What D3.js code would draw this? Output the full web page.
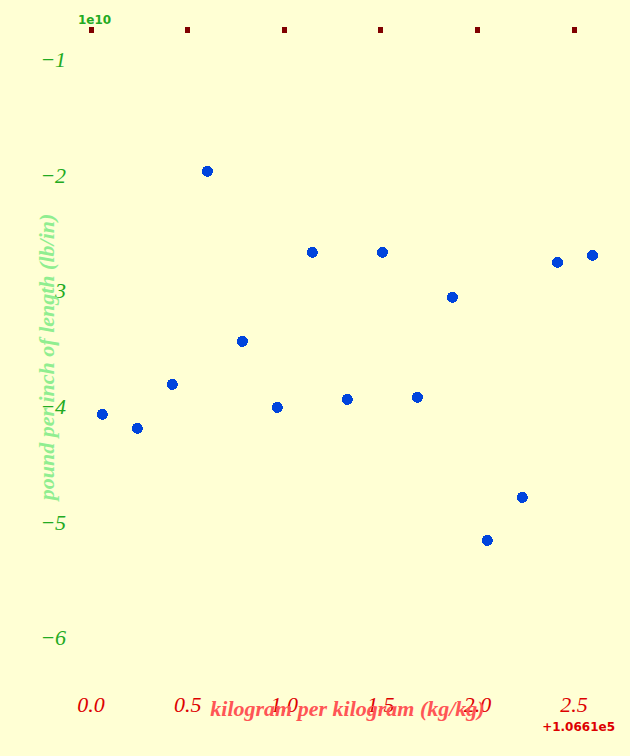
<!DOCTYPE html>
<html><head><meta charset="utf-8">
<script src="https://cdn.jsdelivr.net/npm/d3@7"></script>
<style>html,body{margin:0;padding:0;background:#ffffd4;} svg{display:block}</style>
</head><body><svg id="chart" width="630" height="756"></svg>
<script>
const xValues = [106610.061, 106610.242, 106610.423, 106610.605, 106610.786, 106610.967, 106611.148, 106611.329, 106611.511, 106611.692, 106611.873, 106612.054, 106612.235, 106612.417, 106612.598];
const yValues = [-4.068e10, -4.189e10, -3.809e10, -1.966e10, -3.437e10, -4.008e10, -2.667e10, -3.939e10, -2.667e10, -3.921e10, -3.056e10, -5.158e10, -4.786e10, -2.753e10, -2.693e10];
const xTickValues = [106610, 106610.5, 106611, 106611.5, 106612, 106612.5];
const xTickLabels = ["0.0", "0.5", "1.0", "1.5", "2.0", "2.5"];
const yTickValues = [-1e10, -2e10, -3e10, -4e10, -5e10, -6e10];
const yTickLabels = ["\u22121", "\u22122", "\u22123", "\u22124", "\u22125", "\u22126"];
const xOffsetText = "+1.0661e5";
const yOffsetText = "1e10";
const xLabel = "kilogram per kilogram (kg/kg)";
const yLabel = "pound per inch of length (lb/in)";

const W = 630, H = 756;
const plot = {left: 78, right: 617, top: 30, bottom: 684};
const svg = d3.select("#chart");
svg.append("rect").attr("width", W).attr("height", H).attr("fill", "#ffffd4");

const x = d3.scaleLinear().domain([106609.935, 106612.725]).range([plot.left, plot.right]);
const y = d3.scaleLinear().domain([-0.744e10, -6.4e10]).range([plot.top, plot.bottom]);

const serif = "'Liberation Serif', 'Times New Roman', serif";
const sans = "'DejaVu Sans', sans-serif";

// top tick marks
const topAxis = svg.append("g").attr("transform", `translate(0,${plot.top + 3})`)
  .call(d3.axisTop(x).tickValues(xTickValues).tickSize(6).tickFormat(() => ""));
topAxis.select(".domain").remove();
topAxis.selectAll(".tick line").attr("stroke", "#800000").attr("stroke-width", 5).attr("shape-rendering", "crispEdges");

// bottom tick labels
const botAxis = svg.append("g").attr("transform", "translate(0,712)")
  .call(d3.axisBottom(x).tickValues(xTickValues).tickSize(0).tickFormat((d, i) => xTickLabels[i]));
botAxis.select(".domain").remove();
botAxis.selectAll(".tick text").attr("y", 0).attr("dy", 0)
  .attr("fill", "#dd0000").style("font-family", serif).style("font-style", "italic").style("font-size", "22px");

// left tick labels
const leftAxis = svg.append("g").attr("transform", "translate(66,0)")
  .call(d3.axisLeft(y).tickValues(yTickValues).tickSize(0).tickPadding(0).tickFormat((d, i) => yTickLabels[i]));
leftAxis.select(".domain").remove();
leftAxis.selectAll(".tick text").attr("x", 0).attr("dy", 7)
  .attr("fill", "#22aa22").style("font-family", serif).style("font-style", "italic").style("font-size", "22px");

// offset texts
svg.append("text").attr("x", 78).attr("y", 24).text(yOffsetText)
  .attr("fill", "#22aa22").style("font-family", sans).style("font-weight", "bold").style("font-size", "12px");
svg.append("text").attr("x", 615).attr("y", 731).attr("text-anchor", "end").text(xOffsetText)
  .attr("fill", "#dd0000").style("font-family", sans).style("font-weight", "bold").style("font-size", "12px");

// axis labels
svg.append("text").attr("x", (plot.left + plot.right) / 2).attr("y", 716).attr("text-anchor", "middle").text(xLabel)
  .attr("fill", "#ff5555").style("font-family", serif).style("font-style", "italic").style("font-weight", "bold").style("font-size", "22px");
svg.append("text").attr("transform", `translate(54,${(plot.top + plot.bottom) / 2}) rotate(-90)`).attr("text-anchor", "middle").text(yLabel)
  .attr("fill", "#90ee90").style("font-family", serif).style("font-style", "italic").style("font-weight", "bold").style("font-size", "22px");

// points
svg.append("g").selectAll("circle").data(xValues.map((v, i) => [v, yValues[i]])).join("circle")
  .attr("cx", d => x(d[0])).attr("cy", d => y(d[1])).attr("r", 5.5)
  .attr("fill", "#0044dd").attr("shape-rendering", "crispEdges");
</script></body></html>
